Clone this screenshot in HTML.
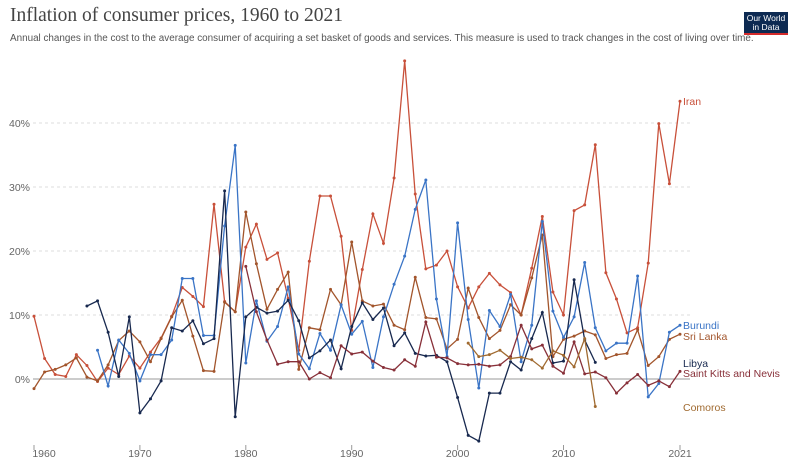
<!DOCTYPE html>
<html><head><meta charset="utf-8"><style>
body{margin:0;background:#fff;width:800px;height:466px;overflow:hidden;font-family:"Liberation Sans",sans-serif}
#title{position:absolute;left:10px;top:5px;font-family:"Liberation Serif",serif;font-size:19.5px;color:#444}
#sub{position:absolute;left:10px;top:33px;font-size:9.9px;color:#555;white-space:nowrap}
#logo{position:absolute;left:744px;top:12px;width:44px;height:23px;background:#0d2a52;color:#fff;font-size:8.5px;line-height:9px;text-align:center;border-bottom:2px solid #d42b2b;box-sizing:border-box;padding-top:2px}
svg{position:absolute;left:0;top:0}
</style></head><body>
<div id="title">Inflation of consumer prices, 1960 to 2021</div>
<div id="sub">Annual changes in the cost to the average consumer of acquiring a set basket of goods and services. This measure is used to track changes in the cost of living over time.</div>
<div id="logo">Our World<br>in Data</div>
<svg id="chart" width="800" height="466"></svg>
<script>
const yTicks=[0,10,20,30,40];
const xTicks=[1960,1970,1980,1990,2000,2010,2021];
const iranStart=1960;
const iran=[9.8,3.2,0.7,0.4,3.8,2.1,-0.4,1.7,0.7,3.6,1.7,4.2,6.4,9.8,14.3,12.9,11.3,27.3,12.1,10.5,20.6,24.2,18.7,19.7,12.6,4.5,18.4,28.6,28.6,22.3,7.6,17.1,25.8,21.2,31.4,49.7,28.9,17.2,17.8,20.0,14.4,11.1,14.4,16.5,14.7,13.5,10.0,17.3,25.4,13.6,10.0,26.3,27.2,36.6,16.6,12.5,7.2,8.0,18.1,39.9,30.5,43.4];
const sriStart=1960;
const sri=[-1.5,1.1,1.5,2.2,3.3,0.3,-0.3,2.2,6.0,7.5,5.8,2.7,6.3,9.7,12.3,6.7,1.3,1.2,12.0,10.5,26.1,18.0,10.9,14.0,16.7,1.5,8.0,7.7,14.0,11.6,21.4,12.2,11.4,11.7,8.4,7.7,15.9,9.6,9.4,4.7,6.2,14.2,9.6,6.3,7.6,11.6,10.0,15.8,22.5,3.5,6.2,6.7,7.5,6.9,3.2,3.8,4.0,7.7,2.1,3.5,6.2,7.0];
const burStart=1966;
const bur=[4.5,-1.1,6.1,4.0,-0.3,3.8,3.8,6.1,15.7,15.7,6.8,6.8,23.9,36.5,2.5,12.2,5.9,8.2,14.4,3.9,1.6,7.1,4.5,11.6,7.0,9.0,1.8,9.7,14.8,19.2,26.5,31.1,12.5,3.5,24.4,9.3,-1.4,10.7,8.2,13.2,2.7,8.4,24.6,10.6,6.5,9.7,18.2,8.0,4.4,5.6,5.6,16.1,-2.8,-0.7,7.3,8.4];
const libStart=1965;
const lib=[11.4,12.2,7.3,0.4,9.7,-5.3,-3.1,-0.3,8.0,7.5,9.1,5.5,6.3,29.4,-5.9,9.7,11.2,10.3,10.6,12.3,9.1,3.3,4.4,6.1,1.6,8.2,11.9,9.3,11.1,5.2,7.2,4.0,3.6,3.7,2.7,-2.9,-8.8,-9.7,-2.2,-2.2,2.7,1.4,6.3,10.4,2.5,2.8,15.5,6.1,2.6];
const sknStart=1980;
const skn=[17.6,10.5,6.1,2.3,2.7,2.7,0.0,1.0,0.2,5.2,3.9,4.2,2.8,1.8,1.4,3.0,2.0,8.9,3.4,3.3,2.4,2.2,2.3,2.0,2.2,3.5,8.4,4.7,5.3,2.0,0.9,5.8,0.8,1.1,0.2,-2.2,-0.6,0.7,-1.0,-0.3,-1.2,1.2];
const comStart=2001;
const com=[5.6,3.5,3.8,4.5,3.2,3.4,3.0,1.7,4.4,3.7,1.9,6.3,-4.3];
const seriesNames=["Iran","Sri Lanka","Burundi","Libya","Saint Kitts and Nevis","Comoros"];

const NS="http://www.w3.org/2000/svg";
const svg=document.getElementById('chart');
const X=y=>34+(y-1960)*(680-34)/61;
const Y=v=>379-v*6.4;
function mk(t,a,parent){const e=document.createElementNS(NS,t);for(const k in a)e.setAttribute(k,a[k]);(parent||svg).appendChild(e);return e;}
yTicks.forEach(v=>{
  const l=mk('line',{x1:33,x2:690,y1:Y(v),y2:Y(v),stroke:v===0?'#999':'#ddd','stroke-dasharray':v===0?'':'3,3','stroke-width':1});
  
  
  const t=mk('text',{x:30,y:Y(v)+4,'text-anchor':'end','font-size':10.5,fill:'#666'});
  t.textContent=v+'%';
  
  
});
xTicks.forEach((yr,i)=>{
  const tk=mk('line',{x1:X(yr),x2:X(yr),y1:445,y2:450,stroke:'#999'});
  
  
  const t=mk('text',{x:i===0?X(yr)+10:X(yr),y:457,'text-anchor':'middle','font-size':10.5,fill:'#666'});
  t.textContent=yr;
  
  
});
const defs=[
 [iran,iranStart,'#c8503a','iran',101],
 [sri,sriStart,'#a2552c','sri-lanka',336],
 [bur,burStart,'#3a74c6','burundi',325],
 [lib,libStart,'#18294f','libya',363],
 [skn,sknStart,'#883039','saint-kitts-and-nevis',373],
 [com,comStart,'#a06a30','comoros',407]];
defs.forEach((d,si)=>{
  const [vals,start,col,nm,ly]=d;
  const g=mk('g',{});
  
  
  const pts=vals.map((v,i)=>X(start+i).toFixed(1)+','+Y(v).toFixed(1)).join(' ');
  const pl=mk('polyline',{points:pts,fill:'none',stroke:col,'stroke-width':1.3},g);
  
  
  vals.forEach((v,i)=>{
    const c=mk('circle',{cx:X(start+i),cy:Y(v),r:1.5,fill:col},g);
    
    
  });
  const t=mk('text',{x:683,y:ly+4,'font-size':10.5,fill:col});
  t.textContent=seriesNames[si];
  
  
});
</script>
</body></html>
